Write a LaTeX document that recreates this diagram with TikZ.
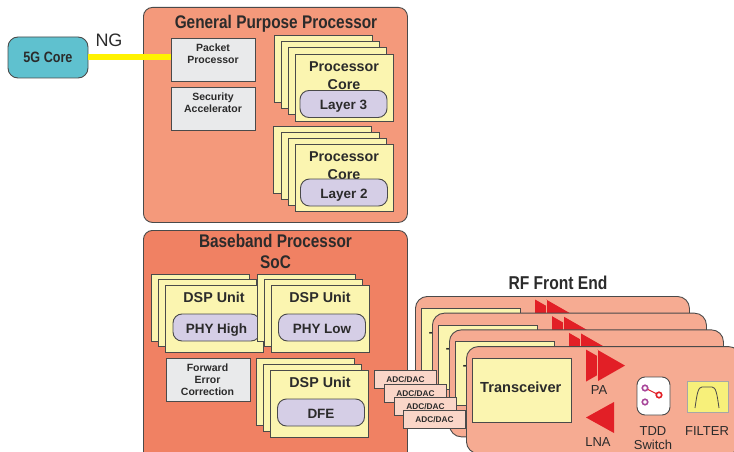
\documentclass[tikz,border=0pt]{standalone}
\usepackage{fontspec}
\setmainfont{Liberation Sans}
\newfontfamily\narrowfont[FakeStretch=0.84]{Liberation Sans}
\usetikzlibrary{positioning}
\definecolor{gppcol}{HTML}{F4997B}
\definecolor{bbcol}{HTML}{F08163}
\definecolor{rfcol}{HTML}{F6AB92}
\definecolor{corecol}{HTML}{FBF5B0}
\definecolor{pillcol}{HTML}{D5CEE6}
\definecolor{greycol}{HTML}{E9EAEB}
\definecolor{adccol}{HTML}{FAD6C8}
\definecolor{edgecol}{HTML}{4A4A4A}
\definecolor{redcol}{HTML}{E21F26}
\definecolor{txtcol}{HTML}{2B2B2B}
\definecolor{tealcol}{HTML}{5FC1CF}
\definecolor{linkcol}{HTML}{FFF200}
\definecolor{filtcol}{HTML}{F7F07A}
\definecolor{dotcol}{HTML}{A8479B}

\begin{document}
\begin{tikzpicture}[
                  x=1pt, y=-1pt, text=txtcol,
                  panel/.style={rectangle, draw=edgecol, line width=0.9pt, rounded corners=9pt, anchor=north west, inner sep=0pt},
                  sheet/.style={rectangle, draw=edgecol, line width=0.9pt, fill=corecol, anchor=north west, minimum width=98pt, minimum height=67pt, inner sep=0pt},
                  pill/.style={rectangle, draw=edgecol, line width=0.9pt, fill=pillcol, rounded corners=9pt, minimum width=87pt, minimum height=27pt, inner sep=0pt, text height=11pt, text depth=0pt, font=\fontsize{13.5}{15}\selectfont\bfseries},
                  greybox/.style={rectangle, draw=edgecol, line width=0.9pt, fill=greycol, anchor=north west, minimum width=84pt, minimum height=43pt, inner sep=0pt},
                  small/.style={align=center, font=\fontsize{10.5}{12.2}\selectfont\bfseries, inner sep=0pt},
                  head/.style={align=center, font=\fontsize{14.3}{16}\selectfont\bfseries, inner sep=0pt},
                  title/.style={align=center, font=\narrowfont\fontsize{18.3}{21}\selectfont\bfseries, inner sep=0pt},
                  plain/.style={align=center, font=\fontsize{13}{14}\selectfont, inner sep=0pt},
                  adc/.style={rectangle, draw=edgecol, line width=0.9pt, fill=adccol, anchor=north west, minimum width=62pt, minimum height=18pt, inner sep=0pt, font=\fontsize{8.3}{9}\selectfont\bfseries},
                  swdot/.style={circle, fill=white, line width=1.6pt, minimum size=5.5pt, inner sep=0pt},
                  amp/.style={fill=redcol}
            ]
            \clip (0,0) rectangle (734,452);

            % Panels
            \node [panel, fill=gppcol, minimum width=264pt, minimum height=215pt] (gpp) at (143,7) {};
            \node [panel, fill=bbcol, minimum width=264pt, minimum height=240pt] (bb) at (143,230) {};
            \node [title] (gpptitle) at (276,24) {General Purpose Processor};
            \node [title] (bbtitle) at (275.5,251.5) {Baseband Processor\\SoC};

            % 5G core and NG link
            \node [panel, fill=tealcol, rounded corners=10pt, minimum width=80pt, minimum height=41pt, anchor=center, font=\narrowfont\fontsize{15}{17}\selectfont\bfseries] (core) at (48,57.5) {5G Core};
            \node [greybox] (packet) at (171,38) {};
            \node [greybox] (security) at (171,87) {};
            \draw [linkcol, line width=6pt] (core.east) -- (core.east -| packet.west);
            \node [font=\fontsize{18}{20}\selectfont, inner sep=0pt] (ng) at (109,40) {NG};
            \node [small] (packettxt) at (213,54) {Packet\\Processor};
            \node [small] (securitytxt) at (213,103) {Security\\Accelerator};

            % Processor cores
            \foreach \i/\xx/\yy in {0/274/35, 1/281/41, 2/288/47, 3/295/54} {
                  \node [sheet] (cthree\i) at (\xx,\yy) {};
            }
            \node [head, align=center] (cthreetxt) at (344,75.5) {Processor\\[1.5pt]Core};
            \node [pill] (layerthree) at (343.5,104) {Layer 3};
            \foreach \i/\xx/\yy in {0/273/126, 1/281/132, 2/288/138, 3/295/144} {
                  \node [sheet] (ctwo\i) at (\xx,\yy) {};
            }
            \node [head, align=center] (ctwotxt) at (344,165.5) {Processor\\[1.5pt]Core};
            \node [pill] (layertwo) at (344,192.5) {Layer 2};

            % DSP units
            \foreach \i/\xx/\yy in {0/151/274, 1/158/279, 2/165/285} {
                  \node [sheet] (high\i) at (\xx,\yy) {};
            }
            \node [head] (hightxt) at (214,297) {DSP Unit};
            \node [pill] (phyhigh) at (216.5,327.5) {PHY High};
            \foreach \i/\xx/\yy in {0/257/274, 1/264/279, 2/271/285} {
                  \node [sheet] (low\i) at (\xx,\yy) {};
            }
            \node [head] (lowtxt) at (320,297) {DSP Unit};
            \node [pill] (phylow) at (322,327.5) {PHY Low};
            \foreach \i/\xx/\yy in {0/256/358, 1/263/364, 2/270/370} {
                  \node [sheet] (dfe\i) at (\xx,\yy) {};
            }
            \node [head] (dfetxt) at (320,382) {DSP Unit};
            \node [pill] (dfe) at (321,412.5) {DFE};
            \node [greybox] (fec) at (166,358) {};
            \node [small] (fectxt) at (207.5,379.5) {Forward\\Error\\Correction};

            % RF cards
            \node [title, font=\narrowfont\fontsize{18.6}{20}\selectfont\bfseries] (rftitle) at (558,283) {RF Front End};
            \foreach \i in {0,1,2,3} {
                  \begin{scope}[shift={(17*\i,16.7*\i)}]
                        \node [panel, fill=rfcol, rounded corners=12pt, minimum width=274pt, minimum height=107pt] (card\i) at (415,296) {};
                        \node [rectangle, draw=edgecol, line width=0.9pt, fill=corecol, anchor=north west, minimum width=99pt, minimum height=64pt, inner sep=0pt] (xcvr\i) at (421,308) {};
                        \node [anchor=west, inner sep=0pt, font=\fontsize{14.6}{16}\selectfont\bfseries] (xcvrtxt\i) at (429,337) {Transceiver};
                        \fill [amp] (535,299.5) -- (563,315.5) -- (535,331.5) -- cycle;
                        \fill [amp] (546,299.5) -- (574,315.5) -- (546,331.5) -- cycle;
                        \draw [rfcol, line width=0.5pt] (546,299.5) -- (546,331.5);
                  \end{scope}
            }
            \node [plain] (patxt) at (599,390) {PA};
            \fill [amp] (614,402) -- (586,417.5) -- (614,433) -- cycle;
            \node [plain] (lnatxt) at (598,442) {LNA};

            % TDD switch
            \node [rectangle, draw=edgecol, line width=0.9pt, fill=white, rounded corners=8pt, minimum width=33pt, minimum height=38pt, inner sep=0pt] (tdd) at (653.5,396) {};
            \draw [redcol, line width=1pt] (645,388) -- (659,395);
            \node [swdot, draw=dotcol] (swa) at (645,388) {};
            \node [swdot, draw=dotcol] (swb) at (645,402) {};
            \node [swdot, draw=redcol] (swc) at (659,395) {};
            \node [plain, align=center, font=\fontsize{13}{14}\selectfont] (tddtxt) at (653,438) {TDD\\Switch};

            % Filter
            \node [rectangle, draw=gray!70, line width=0.6pt, fill=filtcol, anchor=north west, minimum width=41pt, minimum height=31pt, inner sep=0pt] (filter) at (687,381) {};
            \draw [edgecol, line width=0.8pt] (695,408) .. controls (697,394) and (698,387) .. (702,387) -- (712,387) .. controls (716,387) and (717,394) .. (719,408);
            \node [plain] (filtertxt) at (707,431) {FILTER};

            % ADC/DAC
            \foreach \i/\xx/\yy in {0/374/370, 1/384/384, 2/394/397, 3/403/410} {
                  \node [adc] (adc\i) at (\xx,\yy) {ADC/DAC};
            }
      \end{tikzpicture}
\end{document}
